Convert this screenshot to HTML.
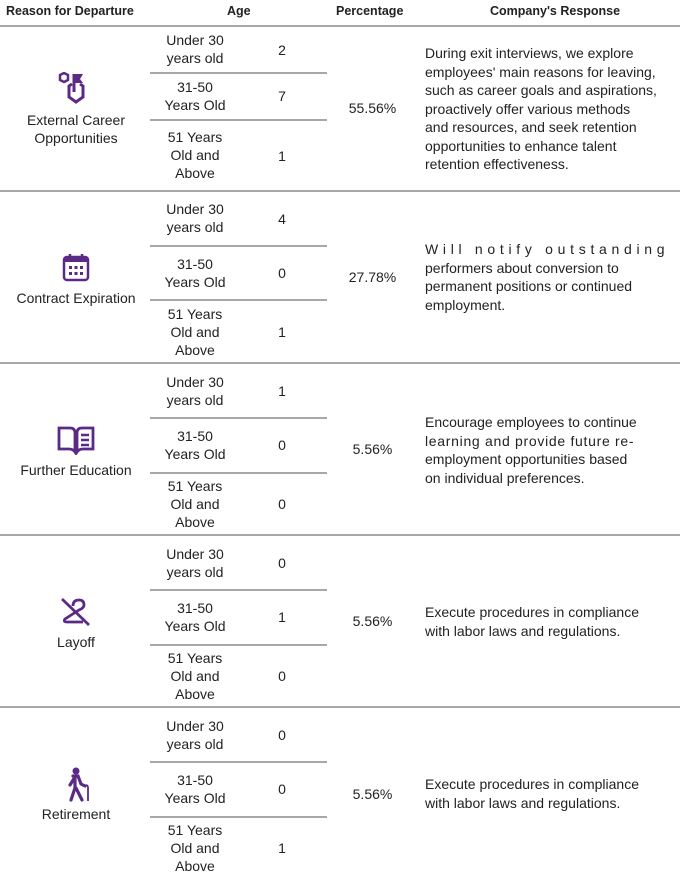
<!DOCTYPE html>
<html><head><meta charset="utf-8"><style>
body{margin:0;width:691px;height:877px;background:#fff;font-family:"Liberation Sans",sans-serif;color:#222;position:relative;overflow:hidden}
.a{position:absolute}
.h{font-weight:bold;font-size:12.5px;top:4px}
.l{position:absolute;height:1.5px;background:#a8a8a8}
.c{position:absolute;text-align:center;font-size:14px;line-height:18px}
.r{position:absolute;left:425px;width:245px;font-size:14px;line-height:18.5px}
.r div{text-align:left;white-space:nowrap}
svg{position:absolute}
</style></head><body>
<div class="a h" style="left:6px">Reason for Departure</div>
<div class="a h" style="left:227px">Age</div>
<div class="a h" style="left:336px">Percentage</div>
<div class="a h" style="left:490px">Company's Response</div>
<div class="l" style="left:0;width:680px;top:25px"></div>
<div class="l" style="left:0;width:680px;top:190px"></div>
<div class="l" style="left:0;width:680px;top:362px"></div>
<div class="l" style="left:0;width:680px;top:534px"></div>
<div class="l" style="left:0;width:680px;top:706px"></div>
<div class="l" style="left:150px;width:177px;top:72px"></div>
<div class="l" style="left:150px;width:177px;top:119px"></div>
<div class="l" style="left:150px;width:177px;top:245px"></div>
<div class="l" style="left:150px;width:177px;top:299px"></div>
<div class="l" style="left:150px;width:177px;top:417px"></div>
<div class="l" style="left:150px;width:177px;top:472px"></div>
<div class="l" style="left:150px;width:177px;top:589px"></div>
<div class="l" style="left:150px;width:177px;top:644px"></div>
<div class="l" style="left:150px;width:177px;top:761px"></div>
<div class="l" style="left:150px;width:177px;top:816px"></div>

<svg style="left:58px;top:72px" width="36" height="36" viewBox="0 0 36 36"><polygon points="6,1 10,3 10,8 6,10 2,8 2,3" fill="none" stroke="#5b2a86" stroke-width="2.5"/><path d="M14 12 L11 14 V25 L18 30 L25 25 V14 L22 12" fill="none" stroke="#5b2a86" stroke-width="3"/><path d="M16 2 V20" stroke="#5b2a86" stroke-width="3"/><polygon points="17,2 25,2 22,7 25,11 17,11" fill="#5b2a86"/></svg>
<div class="c" style="left:0;width:152px;top:111px">External Career<br>Opportunities</div>
<div class="c" style="left:150px;width:90px;top:31px">Under 30<br>years old</div>
<div class="c" style="left:150px;width:90px;top:78px">31-50<br>Years Old</div>
<div class="c" style="left:150px;width:90px;top:128px">51 Years<br>Old and<br>Above</div>
<div class="c" style="left:272px;width:20px;top:41px">2</div>
<div class="c" style="left:272px;width:20px;top:87px">7</div>
<div class="c" style="left:272px;width:20px;top:147px">1</div>
<div class="c" style="left:330px;width:85px;top:99px">55.56%</div>
<div class="r" style="top:44px"><div>During exit interviews, we explore</div><div>employees' main reasons for leaving,</div><div>such as career goals and aspirations,</div><div>proactively offer various methods</div><div>and resources, and seek retention</div><div>opportunities to enhance talent</div><div>retention effectiveness.</div></div>

<svg style="left:61px;top:253px" width="30" height="30" viewBox="0 0 30 30"><rect x="3" y="4" width="24" height="23" rx="3" fill="none" stroke="#5b2a86" stroke-width="2.5"/><rect x="3" y="4" width="24" height="5" fill="#5b2a86"/><path d="M9 1V6M21 1V6" stroke="#5b2a86" stroke-width="2.5"/><g fill="#5b2a86"><rect x="8" y="13" width="3" height="3"/><rect x="13.5" y="13" width="3" height="3"/><rect x="19" y="13" width="3" height="3"/><rect x="8" y="19" width="3" height="3"/><rect x="13.5" y="19" width="3" height="3"/><rect x="19" y="19" width="3" height="3"/></g></svg>
<div class="c" style="left:0;width:152px;top:289px">Contract Expiration</div>
<div class="c" style="left:150px;width:90px;top:200px">Under 30<br>years old</div>
<div class="c" style="left:150px;width:90px;top:255px">31-50<br>Years Old</div>
<div class="c" style="left:150px;width:90px;top:305px">51 Years<br>Old and<br>Above</div>
<div class="c" style="left:272px;width:20px;top:210px">4</div>
<div class="c" style="left:272px;width:20px;top:264px">0</div>
<div class="c" style="left:272px;width:20px;top:323px">1</div>
<div class="c" style="left:330px;width:85px;top:268px">27.78%</div>
<div class="r" style="top:240px"><div style="letter-spacing:4.7px">Will notify outstanding</div><div>performers about conversion to</div><div>permanent positions or continued</div><div>employment.</div></div>

<svg style="left:57px;top:425px" width="38" height="30" viewBox="0 0 38 30"><path d="M2 3 H13 Q18 3 18 8 V27 Q16 24 12 24 H2 Z M36 3 H25 Q20 3 20 8 V27 Q22 24 26 24 H36 Z" fill="none" stroke="#5b2a86" stroke-width="2.8"/><path d="M24 10H32M24 15H32M24 20H32" stroke="#5b2a86" stroke-width="2.5"/></svg>
<div class="c" style="left:0;width:152px;top:461px">Further Education</div>
<div class="c" style="left:150px;width:90px;top:373px">Under 30<br>years old</div>
<div class="c" style="left:150px;width:90px;top:427px">31-50<br>Years Old</div>
<div class="c" style="left:150px;width:90px;top:477px">51 Years<br>Old and<br>Above</div>
<div class="c" style="left:272px;width:20px;top:382px">1</div>
<div class="c" style="left:272px;width:20px;top:436px">0</div>
<div class="c" style="left:272px;width:20px;top:495px">0</div>
<div class="c" style="left:330px;width:85px;top:440px">5.56%</div>
<div class="r" style="top:413px"><div>Encourage employees to continue</div><div style="letter-spacing:0.7px">learning and provide future re-</div><div>employment opportunities based</div><div>on individual preferences.</div></div>

<svg style="left:59px;top:597px" width="34" height="30" viewBox="0 0 34 30"><path d="M3 2 L30 28" stroke="#5b2a86" stroke-width="2.8"/><path d="M14 9 Q14 3 20 3 Q25 3 25 8 Q25 11 20 13 L6 22 Q4 25 8 25 H24" fill="none" stroke="#5b2a86" stroke-width="2.8"/></svg>
<div class="c" style="left:0;width:152px;top:633px">Layoff</div>
<div class="c" style="left:150px;width:90px;top:545px">Under 30<br>years old</div>
<div class="c" style="left:150px;width:90px;top:599px">31-50<br>Years Old</div>
<div class="c" style="left:150px;width:90px;top:649px">51 Years<br>Old and<br>Above</div>
<div class="c" style="left:272px;width:20px;top:554px">0</div>
<div class="c" style="left:272px;width:20px;top:608px">1</div>
<div class="c" style="left:272px;width:20px;top:667px">0</div>
<div class="c" style="left:330px;width:85px;top:612px">5.56%</div>
<div class="r" style="top:603px"><div>Execute procedures in compliance</div><div>with labor laws and regulations.</div></div>

<svg style="left:62px;top:767px" width="28" height="36" viewBox="0 0 28 36"><circle cx="14" cy="4" r="3.5" fill="#5b2a86"/><path d="M11 9 L16 9 L19 17 L23 19 M13 10 L8 18 M13 10 L13 21 L9 33 M14 21 L20 33" fill="none" stroke="#5b2a86" stroke-width="3.2" stroke-linecap="round"/><path d="M23 19 Q25 17 26 20 V34" fill="none" stroke="#5b2a86" stroke-width="1.8"/></svg>
<div class="c" style="left:0;width:152px;top:805px">Retirement</div>
<div class="c" style="left:150px;width:90px;top:717px">Under 30<br>years old</div>
<div class="c" style="left:150px;width:90px;top:771px">31-50<br>Years Old</div>
<div class="c" style="left:150px;width:90px;top:821px">51 Years<br>Old and<br>Above</div>
<div class="c" style="left:272px;width:20px;top:726px">0</div>
<div class="c" style="left:272px;width:20px;top:780px">0</div>
<div class="c" style="left:272px;width:20px;top:839px">1</div>
<div class="c" style="left:330px;width:85px;top:785px">5.56%</div>
<div class="r" style="top:775px"><div>Execute procedures in compliance</div><div>with labor laws and regulations.</div></div>
</body></html>
